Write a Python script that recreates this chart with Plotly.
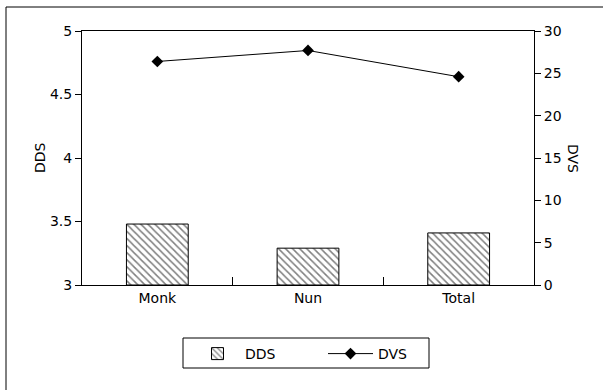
import plotly.graph_objects as go

categories = ["Monk", "Nun", "Total"]
dds_values = [3.48, 3.29, 3.41]
dvs_values = [26.4, 27.7, 24.6]
dds_ticks = [3, 3.5, 4, 4.5, 5]
dds_ticktext = ["3", "3.5", "4", "4.5", "5"]
dvs_ticks = [0, 5, 10, 15, 20, 25, 30]

FONT = "DejaVu Sans"
L, R, T, B = 82, 69, 31, 105
W, H = 603, 390
pw, ph = W - L - R, H - T - B


def px_x(x):
    return (x - L) / pw


def px_y(y):
    return (H - B - y) / ph


fig = go.Figure()
fig.add_trace(go.Bar(
    x=categories, y=[v - 3 for v in dds_values], base=3, name="DDS",
    width=0.41,
    marker=dict(color="white", line=dict(color="black", width=1),
                pattern=dict(shape="\\", fgcolor="black", bgcolor="white", size=5, solidity=0.3)),
    yaxis="y",
))
fig.add_trace(go.Scatter(
    x=categories, y=dvs_values, name="DVS", mode="lines+markers",
    line=dict(color="black", width=1),
    marker=dict(symbol="diamond", size=9, color="black"),
    yaxis="y2",
))

fig.update_layout(
    width=W, height=H,
    margin=dict(l=L, r=R, t=T, b=B),
    plot_bgcolor="white", paper_bgcolor="white",
    font=dict(family=FONT, size=14, color="black"),
    xaxis=dict(type="category", showline=True, linecolor="black", linewidth=1,
               mirror=True, ticks="inside", tickson="boundaries", ticklen=8,
               tickcolor="black", showgrid=False, tickfont=dict(size=14)),
    yaxis=dict(range=[3, 5], tickvals=dds_ticks, ticktext=dds_ticktext,
               showline=True, linecolor="black", linewidth=1, ticks="outside",
               ticklen=6, tickcolor="black", showgrid=False, zeroline=False),
    yaxis2=dict(range=[0, 30], tickvals=dvs_ticks, overlaying="y", side="right",
                showline=True, linecolor="black", linewidth=1, ticks="outside",
                ticklen=6, tickcolor="black", showgrid=False, zeroline=False),
    showlegend=True,
    legend=dict(orientation="h", x=px_x(190), xanchor="left",
                y=px_y(338), yanchor="top",
                borderwidth=0, bgcolor="rgba(0,0,0,0)",
                font=dict(size=14), itemwidth=45, entrywidth=73,
                entrywidthmode="pixels"),
    annotations=[
        dict(text="DDS", x=px_x(30), y=0.5, xref="paper", yref="paper",
             textangle=-90, showarrow=False, font=dict(size=14)),
        dict(text="DVS", x=px_x(583), y=0.5, xref="paper", yref="paper",
             textangle=90, showarrow=False, font=dict(size=14)),
    ],
    shapes=[
        dict(type="rect", xref="paper", yref="paper",
             x0=px_x(6), x1=px_x(606), y0=px_y(396), y1=px_y(7),
             line=dict(color="black", width=1)),
        dict(type="rect", xref="paper", yref="paper",
             x0=px_x(183), x1=px_x(429), y0=px_y(368), y1=px_y(338),
             line=dict(color="black", width=1), layer="below"),
    ],
)

fig.write_html("out.html", config={"displayModeBar": False},
               post_script="document.body.style.margin='0';document.body.style.overflow='hidden';")
